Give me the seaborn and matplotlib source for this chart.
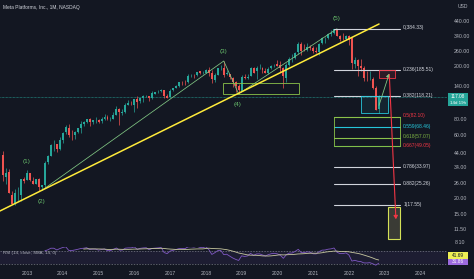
import numpy as np
import pandas as pd
import matplotlib
matplotlib.use("Agg")
import matplotlib.pyplot as plt
import seaborn as sns
from matplotlib.patches import Rectangle, FancyArrowPatch
from matplotlib.ticker import NullLocator, FixedLocator, FixedFormatter

# ---------------- data (monthly META candles, May 2012 .. Nov 2022) ----------------
opens = [42.05, 28.89, 31.25, 20.88, 18.08, 20.82, 21.08, 28.00,
         27.44, 31.01, 27.05, 25.63, 27.85, 24.27, 24.97, 37.30, 41.84, 50.00, 50.85, 46.90,
         54.83, 63.03, 67.90, 60.46, 59.60, 63.48, 67.58, 72.22, 74.87, 78.78, 75.00, 77.26,
         78.58, 76.11, 79.00, 82.50, 79.00, 79.30, 85.40, 94.45, 88.44, 90.05, 101.95, 104.83,
         101.95, 112.27, 107.83, 114.25, 117.83, 118.50, 114.20, 123.85, 126.38, 128.38, 131.41, 118.38,
         116.03, 132.25, 136.47, 141.93, 151.74, 151.75, 151.72, 169.82, 172.40, 171.39, 182.36, 176.03,
         177.68, 188.22, 177.81, 157.81, 172.00, 193.07, 194.55, 173.93, 173.50, 163.03, 151.52, 140.32,
         128.99, 165.60, 162.60, 167.83, 194.78, 185.01, 194.03, 194.60, 184.00, 178.47, 192.85, 202.13,
         206.75, 203.44, 194.03, 161.62, 202.27, 224.59, 228.50, 255.82, 296.20, 265.67, 267.33, 277.84,
         274.78, 259.52, 256.30, 298.41, 325.24, 328.67, 351.08, 356.42, 380.95, 337.66, 326.04, 319.79,
         338.30, 324.05, 208.32, 223.34, 201.98, 194.75, 160.31, 161.07, 160.04, 137.22, 93.83]
highs = [45.00, 33.45, 32.88, 22.45, 23.37, 24.25, 28.00, 28.88,
         32.51, 31.02, 28.98, 28.00, 28.44, 25.20, 37.96, 42.26, 51.60, 54.83, 51.60, 58.00,
         63.37, 71.44, 72.59, 64.98, 64.13, 68.00, 76.74, 75.99, 79.70, 81.16, 77.90, 82.17,
         80.00, 81.45, 86.07, 85.59, 82.55, 89.40, 99.24, 96.49, 95.07, 105.12, 110.65, 107.92,
         112.84, 117.59, 116.99, 120.79, 121.08, 119.44, 128.33, 126.73, 131.98, 133.50, 131.94, 122.50,
         133.14, 137.18, 142.95, 151.20, 153.60, 156.50, 175.49, 173.05, 174.00, 180.80, 184.25, 182.28,
         190.66, 195.32, 186.10, 177.10, 192.72, 203.55, 218.62, 188.30, 173.89, 165.88, 154.13, 147.19,
         171.68, 173.32, 174.30, 198.48, 196.18, 198.88, 208.66, 198.50, 193.69, 198.09, 203.80, 208.93,
         223.20, 218.77, 197.24, 209.69, 235.30, 245.19, 255.85, 304.00, 303.60, 291.78, 298.00, 290.09,
         285.13, 278.99, 298.00, 331.81, 333.64, 358.79, 377.55, 382.00, 384.33, 345.10, 353.83, 345.22,
         343.09, 330.72, 233.16, 224.71, 227.90, 202.03, 183.30, 183.09, 165.36, 141.33, 120.73]
lows = [26.83, 25.52, 21.61, 18.03, 17.55, 18.80, 18.87, 25.75,
        27.42, 26.77, 25.25, 25.52, 22.67, 22.79, 24.10, 35.94, 41.30, 45.26, 44.82, 46.10,
        51.85, 60.70, 57.98, 54.66, 56.26, 61.79, 61.71, 70.32, 73.54, 70.32, 72.69, 74.50,
        73.54, 73.45, 77.38, 78.12, 77.00, 79.00, 85.00, 72.00, 85.13, 87.87, 100.47, 101.46,
        89.37, 96.82, 104.40, 106.31, 115.88, 108.23, 112.97, 122.07, 125.60, 126.75, 113.55, 114.00,
        115.51, 130.30, 136.08, 138.81, 144.42, 144.56, 147.80, 165.00, 161.56, 168.29, 175.01, 174.51,
        175.80, 167.18, 149.02, 150.51, 170.23, 186.43, 166.56, 170.27, 158.87, 139.03, 126.85, 123.02,
        128.56, 159.59, 159.28, 167.28, 177.16, 160.84, 191.61, 178.23, 176.66, 172.99, 190.30, 197.03,
        200.05, 181.82, 137.10, 150.83, 198.76, 214.85, 227.00, 245.75, 244.13, 258.53, 259.72, 263.87,
        250.88, 253.50, 244.61, 295.91, 298.17, 323.69, 338.74, 350.68, 339.31, 308.11, 317.25, 317.76,
        289.70, 190.22, 192.03, 169.00, 183.47, 154.25, 154.02, 155.62, 134.37, 92.60, 88.09]
closes = [29.60, 31.10, 21.71, 18.06, 21.66, 21.11, 28.00, 26.62,
          30.98, 27.25, 25.58, 27.77, 24.35, 24.88, 36.80, 41.29, 50.23, 50.21, 47.01, 54.65,
          62.57, 68.46, 60.24, 59.78, 63.30, 67.29, 72.65, 74.82, 79.04, 74.99, 77.70, 78.02,
          75.91, 78.97, 82.22, 78.77, 79.19, 85.77, 94.01, 89.43, 89.90, 101.97, 104.24, 104.66,
          112.21, 106.92, 114.10, 117.58, 118.81, 114.28, 123.94, 126.12, 128.27, 130.99, 118.42, 115.05,
          130.32, 135.54, 142.05, 150.25, 151.46, 150.98, 169.25, 171.97, 170.87, 180.06, 177.18, 176.46,
          186.89, 178.32, 159.79, 172.00, 191.78, 194.32, 172.58, 175.73, 164.46, 151.79, 140.61, 131.09,
          166.69, 161.45, 166.69, 193.40, 177.47, 193.00, 194.23, 185.67, 178.08, 191.65, 201.64, 205.25,
          201.91, 192.47, 166.80, 204.71, 225.09, 227.07, 253.67, 293.20, 261.90, 263.11, 276.97, 273.16,
          258.33, 257.62, 294.53, 325.08, 328.73, 347.71, 356.30, 379.38, 339.39, 323.57, 324.46, 336.35,
          313.26, 211.03, 222.36, 200.47, 193.64, 161.25, 159.10, 162.93, 135.68, 93.16, 117.08]

price_ticks = [440, 340, 260, 200, 140, 80, 60, 44, 34, 26, 20, 15, 11.5]
years = [2013, 2014, 2015, 2016, 2017, 2018, 2019, 2020, 2021, 2022, 2023, 2024]

# drawings (month index from May 2012, price)
yellow_x, yellow_y = [-1.06, 126.1], [15.89, 417.5]
wave_x, wave_y = [13, 74, 79, 112], [22.79, 218.62, 123.02, 384.33]
wave_names = ["(1)", "(2)", "(3)", "(4)", "(5)"]
wave_lx = [8, 13, 74, 78.5, 112]
wave_ly = [37.4, 18.9, 255.9, 103, 455.7]
fib_ratios = ["0", "0.236", "0.382", "0.5", "0.559", "0.618", "0.667", "0.786", "0.882", "1"]
fib_levels = [384.33, 185.51, 118.21, 82.10, 68.46, 57.07, 49.05, 33.97, 25.26, 17.55]
last_price = 117.08
rsi_last_labels = ["41.69", "31.86"]   # SMA, RSI as printed on the scale

# ---------------- styling ----------------
BG = "#131722"
TXT = "#b2b5be"
UP, DN = "#26a69a", "#ef5350"
sns.set_style("dark", {"axes.facecolor": BG, "figure.facecolor": BG})
plt.rcParams['font.family'] = ['Liberation Sans', 'DejaVu Sans']

W, H = 474, 279
fig = plt.figure(figsize=(W / 100, H / 100), dpi=100, facecolor=BG)
def fy(py):
    return 1 - py / H

ax = fig.add_axes([0, fy(249), 447 / W, 249 / H])
rax = fig.add_axes([0, fy(267), 447 / W, 20 / H])
for a in (ax, rax):
    a.set_facecolor(BG)
    for s in a.spines.values():
        s.set_visible(False)
    a.grid(False)
rax.patch.set_alpha(0)

df = pd.DataFrame({"open": opens, "high": highs, "low": lows, "close": closes})
df["i"] = np.arange(len(df))
up = df["close"] >= df["open"]
cols = np.where(up, UP, DN)

ax.set_yscale("log")
ax.vlines(df["i"], df["low"], df["high"], colors=cols, lw=0.5, zorder=3)
body_lo = np.minimum(df["open"], df["close"])
body_h = np.abs(df["close"] - df["open"])
ax.bar(df["i"], body_h, bottom=body_lo, width=0.66, color=cols, linewidth=0, zorder=4)

ax.set_xlim(-1.06, 148.9)
ax.set_ylim(8.17, 635.2)

# current price line
ax.axhline(last_price, color=UP, lw=0.5, ls=(0, (1, 1)), zorder=2)

# trend lines
sns.lineplot(x=yellow_x, y=yellow_y, ax=ax, color="#ffeb3b", lw=1.1, zorder=6)
sns.lineplot(x=wave_x, y=wave_y, ax=ax, color="#81c784", lw=0.55, zorder=5, sort=False)
for n, lx, ly in zip(wave_names, wave_lx, wave_ly):
    ax.text(lx, ly, n, color="#66bb6a", fontsize=4.6, ha="center", va="center", zorder=7)

# wave 4 box
ax.add_patch(Rectangle((73.8, 122.8), 25.5, 148.9 - 122.8, fill=False,
                       ec="#8bc34a", lw=0.6, zorder=5))

# fib levels
fx0, fx1 = 111.0, 133.2
line_cols = ["#d1d4dc", "#d1d4dc", "#d1d4dc", "#8bc34a", "#26c6da", "#8bc34a", "#4caf50",
             "#d1d4dc", "#d1d4dc", "#d1d4dc"]
lab_cols = ["#d1d4dc", "#d1d4dc", "#d1d4dc", "#f23645", "#26c6da", "#7cb342", "#f23645",
            "#d1d4dc", "#d1d4dc", "#d1d4dc"]
for r, lv, lc, tc in zip(fib_ratios, fib_levels, line_cols, lab_cols):
    ax.plot([fx0, fx1], [lv, lv], color=lc, lw=0.8, zorder=5)
    ax.text(fx1 + 1.0, lv * 1.02, f"{r}({lv:.2f})", color=tc, fontsize=3.6,
            ha="left", va="center", zorder=7)
ax.add_patch(Rectangle((fx0, fib_levels[6]), fx1 - fx0, fib_levels[3] - fib_levels[6],
                       fill=False, ec="#8bc34a", lw=0.6, zorder=5))

# cyan box
ax.add_patch(Rectangle((120.1, 88.09), 9.0, 118.21 - 88.09, fc="#26c6da", alpha=0.08, lw=0, zorder=2))
ax.add_patch(Rectangle((120.1, 88.09), 9.0, 118.21 - 88.09, fill=False, ec="#26c6da", lw=0.6, zorder=5))
# pink box
ax.add_patch(Rectangle((126.1, 162.4), 5.4, 185.5 - 162.4, fc="#f23645", alpha=0.12, lw=0, zorder=2))
ax.add_patch(Rectangle((126.1, 162.4), 5.4, 185.5 - 162.4, fill=False, ec="#f23645", lw=0.6, zorder=5))
# yellow box
ax.add_patch(Rectangle((129.2, 9.73), 4.0, 17.0 - 9.73, fc="#3a3b35", ec="#d4e157", lw=0.8, zorder=5))

# arrows
ax.add_patch(FancyArrowPatch((125.8, 96.1), (129.8, 183.6), arrowstyle="-|>,head_length=2,head_width=1.2",
                             color="#81c784", lw=0.6, zorder=8))
ax.add_patch(FancyArrowPatch((129.5, 180.4), (131.8, 13.1), arrowstyle="-|>,head_length=2,head_width=1.2",
                             color="#f23645", lw=0.8, zorder=8))

# price axis
ax.yaxis.tick_right()
ax.yaxis.set_minor_locator(NullLocator())
ax.yaxis.set_major_locator(FixedLocator(price_ticks))
ax.yaxis.set_major_formatter(FixedFormatter([f"{p:.2f}" for p in price_ticks]))
ax.tick_params(axis="y", length=0, pad=5, labelsize=3.8, labelcolor=TXT)
ax.set_xticks([])
ax.tick_params(axis="x", length=0)

# ---------------- RSI pane ----------------
delta = df["close"].diff()
gain = delta.clip(lower=0)
loss = -delta.clip(upper=0)
ag = gain.ewm(alpha=1 / 14, min_periods=14, adjust=False).mean()
al = loss.ewm(alpha=1 / 14, min_periods=14, adjust=False).mean()
rsi = 100 - 100 / (1 + ag / al)
rsi_sma = rsi.rolling(14).mean()
rsi_df = pd.DataFrame({"i": df["i"], "rsi": rsi, "sma": rsi_sma})

rax.axhspan(30, 70, color="#7e57c2", alpha=0.10, lw=0)
rax.axhline(70, color="#787b86", lw=0.5, ls=(0, (2, 2)))
rax.axhline(30, color="#787b86", lw=0.5, ls=(0, (2, 2)))
sns.lineplot(data=rsi_df, x="i", y="rsi", ax=rax, color="#7e57c2", lw=0.6)
sns.lineplot(data=rsi_df, x="i", y="sma", ax=rax, color="#c8c8a0", lw=0.6)
rax.set_xlim(-1.06, 148.9)
rax.set_ylim(20.5, 81.1)
rax.set_yticks([])
rax.set_ylabel("")
rax.set_xlabel("")
year_pos = [(y - 2012) * 12 - 4 for y in years]
rax.set_xticks(year_pos)
rax.set_xticklabels([str(y) for y in years])
rax.tick_params(axis="x", length=0, pad=2.6, labelsize=3.6, labelcolor=TXT)
rax.text(0.006, 0.68, "RSI (14, close, SMA, 14, 0)", transform=rax.transAxes,
         color=TXT, fontsize=3.2, ha="left", va="center")

# ---------------- overlay texts ----------------
fig.text(3 / W, fy(7), "Meta Platforms, Inc., 1M, NASDAQ", color="#d1d4dc", fontsize=3.5,
         ha="left", va="center")
fig.text(463 / W, fy(6), "USD", color=TXT, fontsize=3.6, ha="center", va="center")
fig.text(460 / W, fy(242), "8.10", color=TXT, fontsize=3.8, ha="center", va="center")

def label_box(y0, y1, fc):
    fig.patches.append(Rectangle((448 / W, fy(y1)), 20 / W, (y1 - y0) / H, transform=fig.transFigure,
                                 fc=fc, ec="none", figure=fig))

label_box(93, 106, UP)
fig.text(458 / W, fy(96.8), f"{last_price:.2f}", color="white", fontsize=3.4, ha="center", va="center")
fig.text(458 / W, fy(102.6), "14d 19h", color="white", fontsize=3.2, ha="center", va="center")
label_box(252, 258.5, "#eeee55")
fig.text(458 / W, fy(255.2), rsi_last_labels[0], color="#131722", fontsize=3.4, ha="center", va="center")
label_box(258.5, 265, "#9c6ade")
fig.text(458 / W, fy(261.8), rsi_last_labels[1], color="white", fontsize=3.4, ha="center", va="center")

fig.savefig("out.png", dpi=100, facecolor=BG)
